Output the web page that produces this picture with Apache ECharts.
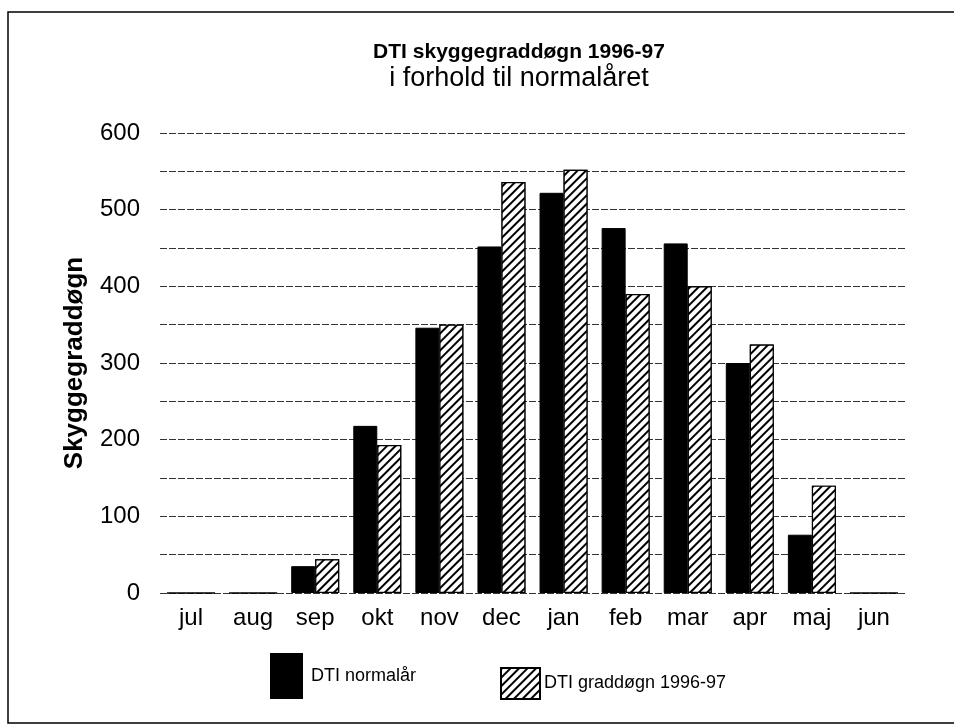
<!DOCTYPE html>
<html lang="da">
<head>
 <meta charset="UTF-8">
 <title>DTI skyggegraddøgn 1996-97</title>
 <style>
  html, body { margin: 0; padding: 0; background: #fff; }
 </style>
</head>
<body>
 <div id="main" style="width: 954px;height:727px;"></div>
 <script src="https://cdn.jsdelivr.net/npm/echarts@6/dist/echarts.min.js"></script>
 <script type="text/javascript">

// data
var months = ['jul', 'aug', 'sep', 'okt', 'nov', 'dec', 'jan', 'feb', 'mar', 'apr', 'maj', 'jun'];
var normalAar = [0, 0, 35, 218, 346, 452, 522, 476, 456, 300, 76, 0];
var graddoegn9697 = [0, 0, 44, 193, 350, 536, 552, 390, 400, 324, 140, 0];
var yTicks = [0, 100, 200, 300, 400, 500, 600];

var font = '"Liberation Sans", Arial, sans-serif';
var myChart = echarts.init(document.getElementById('main'));

var hatch = {
    symbol: 'rect',
    symbolSize: 1,
    color: '#000',
    backgroundColor: '#fff',
    dashArrayX: [1, 0],
    dashArrayY: [1.6, 3.6],
    rotation: -Math.PI / 4
};

myChart.setOption({
    backgroundColor: '#fff',
    animation: false,
    textStyle: { fontFamily: font, color: '#000' },
    title: {
        text: 'DTI skyggegraddøgn 1996-97',
        subtext: 'i forhold til normalåret',
        left: 514,
        textAlign: 'center',
        top: 37,
        itemGap: 2,
        textStyle: { fontSize: 21, fontWeight: 'bold', color: '#000', fontFamily: font },
        subtextStyle: { fontSize: 27, color: '#000', fontFamily: font }
    },
    legend: [{
        data: ['DTI normalår'],
        left: 265,
        top: 648,
        icon: 'rect',
        itemWidth: 31,
        itemHeight: 44,
        textStyle: { fontSize: 18, color: '#000', fontFamily: font, padding: [8, 0, 0, 4] }
    }, {
        data: ['DTI graddøgn 1996-97'],
        left: 495,
        top: 662,
        icon: 'rect',
        itemWidth: 39,
        itemHeight: 31,
        textStyle: { fontSize: 18, color: '#000', fontFamily: font, padding: [0, 0, 0, -1] }
    }],
    grid: { left: 160, right: 49, top: 133, bottom: 134 },
    xAxis: {
        type: 'category',
        data: months,
        axisLine: { show: false },
        axisTick: { show: false },
        axisLabel: { fontSize: 24, color: '#000', margin: 13, fontFamily: font }
    },
    yAxis: {
        type: 'value',
        min: 0,
        max: 600,
        interval: 50,
        name: 'Skyggegraddøgn',
        nameLocation: 'middle',
        nameGap: 72,
        nameTextStyle: { fontSize: 26, fontWeight: 'bold', color: '#000', fontFamily: font },
        axisLine: { show: false },
        axisTick: { show: false },
        axisLabel: {
            fontSize: 24,
            color: '#000',
            margin: 20,
            fontFamily: font,
            formatter: function (v) { return yTicks.indexOf(v) >= 0 ? String(v) : ''; }
        },
        splitLine: { lineStyle: { color: '#333', type: [7, 2], width: 1 } }
    },
    graphic: [{
        type: 'rect',
        shape: { x: 8, y: 12, width: 960, height: 711 },
        style: { fill: 'none', stroke: '#000', lineWidth: 1.5 },
        silent: true
    }],
    series: [{
        name: 'DTI normalår',
        type: 'bar',
        data: normalAar,
        barWidth: 24,
        barGap: '0%',
        itemStyle: { color: '#000', borderColor: '#000', borderWidth: 1 }
    }, {
        name: 'DTI graddøgn 1996-97',
        type: 'bar',
        data: graddoegn9697,
        barWidth: 24,
        itemStyle: { color: '#fff', borderColor: '#000', borderWidth: 1.2, decal: hatch }
    }]
});
 </script>
</body>
</html>
